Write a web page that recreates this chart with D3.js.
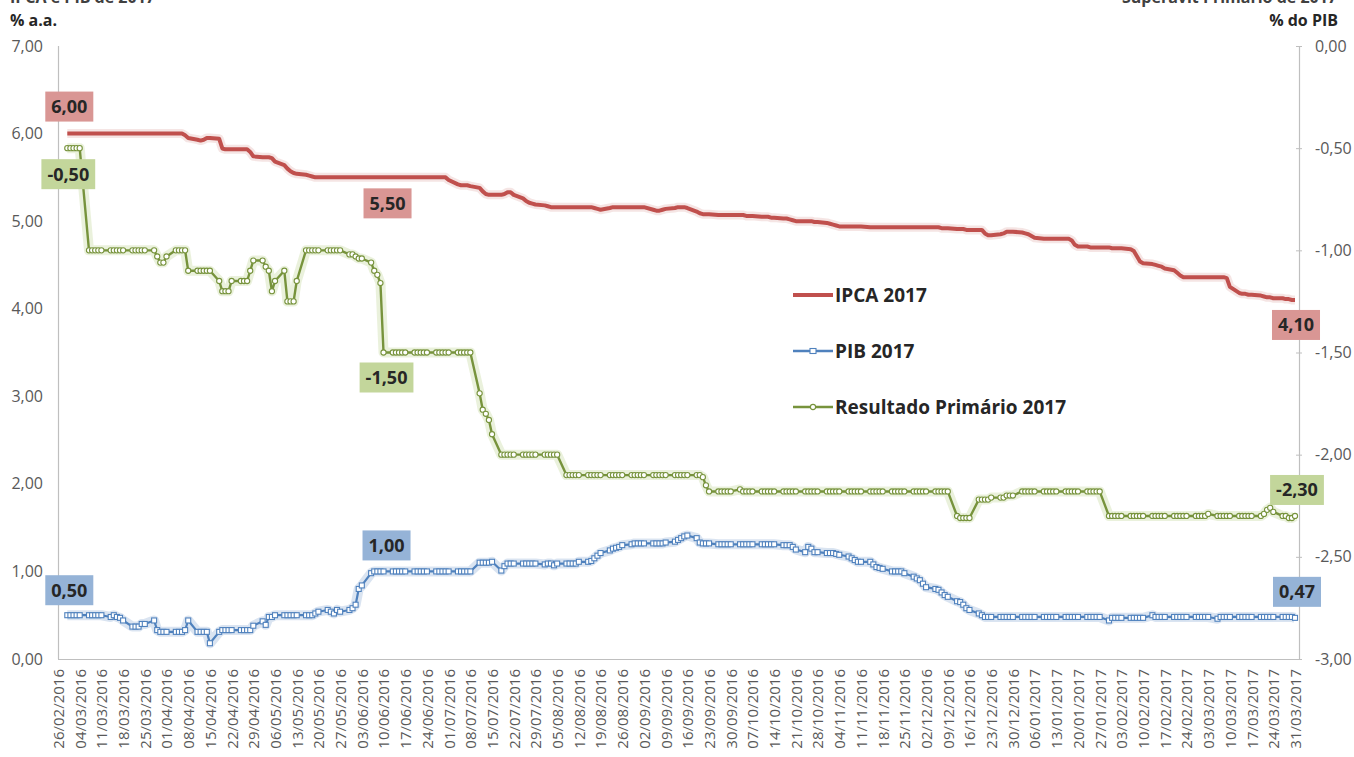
<!DOCTYPE html>
<html><head><meta charset="utf-8">
<script src="https://cdn.jsdelivr.net/npm/d3@7"></script>
<style>
html,body{margin:0;padding:0;background:#fff;}
svg{display:block;}
</style></head><body>
<svg id="chart" width="1354" height="757"></svg>
<script>
// ---------- categories ----------
const axisStart = "2016-02-26";
const firstDay = "2016-02-29";
const lastDay = "2017-03-31";
const tickLabels = ["26/02/2016","04/03/2016","11/03/2016","18/03/2016","25/03/2016","01/04/2016","08/04/2016","15/04/2016","22/04/2016","29/04/2016",
"06/05/2016","13/05/2016","20/05/2016","27/05/2016","03/06/2016","10/06/2016","17/06/2016","24/06/2016","01/07/2016","08/07/2016",
"15/07/2016","22/07/2016","29/07/2016","05/08/2016","12/08/2016","19/08/2016","26/08/2016","02/09/2016","09/09/2016","16/09/2016",
"23/09/2016","30/09/2016","07/10/2016","14/10/2016","21/10/2016","28/10/2016","04/11/2016","11/11/2016","18/11/2016","25/11/2016",
"02/12/2016","09/12/2016","16/12/2016","23/12/2016","30/12/2016","06/01/2017","13/01/2017","20/01/2017","27/01/2017","03/02/2017",
"10/02/2017","17/02/2017","24/02/2017","03/03/2017","10/03/2017","17/03/2017","24/03/2017","31/03/2017"];
const leftTicks = [0,1,2,3,4,5,6,7];
const rightTicks = [0,-0.5,-1,-1.5,-2,-2.5,-3];
const seriesNames = ["IPCA 2017","PIB 2017","Resultado Primário 2017"];

// ---------- series values (one row per week, Mon..Fri) ----------
const ipca = [
6.00,6.00,6.00,6.00,6.00, 6.00,6.00,6.00,6.00,6.00, 6.00,6.00,6.00,6.00,6.00, 6.00,6.00,6.00,6.00,6.00,
6.00,6.00,6.00,6.00,6.00, 6.00,6.00,6.00,5.98,5.95, 5.93,5.92,5.93,5.95,5.95, 5.94,5.83,5.82,5.82,5.82,
5.82,5.82,5.82,5.79,5.74, 5.73,5.73,5.73,5.72,5.68, 5.64,5.60,5.57,5.55,5.54, 5.53,5.52,5.51,5.50,5.50,
5.50,5.50,5.50,5.50,5.50, 5.50,5.50,5.50,5.50,5.50, 5.50,5.50,5.50,5.50,5.50, 5.50,5.50,5.50,5.50,5.50,
5.50,5.50,5.50,5.50,5.50, 5.50,5.50,5.50,5.50,5.47, 5.42,5.41,5.41,5.41,5.40, 5.38,5.34,5.31,5.30,5.30,
5.30,5.31,5.33,5.33,5.30, 5.26,5.23,5.21,5.20,5.19, 5.18,5.17,5.16,5.16,5.16, 5.16,5.16,5.16,5.16,5.16,
5.16,5.16,5.15,5.14,5.13, 5.15,5.16,5.16,5.16,5.16, 5.16,5.16,5.16,5.16,5.16, 5.13,5.12,5.12,5.13,5.14,
5.15,5.16,5.16,5.16,5.15, 5.11,5.09,5.08,5.08,5.08, 5.07,5.07,5.07,5.07,5.07, 5.07,5.07,5.06,5.06,5.06,
5.05,5.05,5.05,5.04,5.04, 5.03,5.03,5.02,5.01,5.00, 5.00,5.00,5.00,4.99,4.99, 4.98,4.97,4.96,4.95,4.94,
4.94,4.94,4.94,4.94,4.94, 4.93,4.93,4.93,4.93,4.93, 4.93,4.93,4.93,4.93,4.93, 4.93,4.93,4.93,4.93,4.93,
4.93,4.93,4.92,4.92,4.92, 4.91,4.91,4.91,4.90,4.90, 4.90,4.90,4.86,4.84,4.84, 4.85,4.86,4.88,4.88,4.88,
4.87,4.86,4.85,4.83,4.81, 4.80,4.80,4.80,4.80,4.80, 4.80,4.80,4.78,4.73,4.71, 4.71,4.70,4.70,4.70,4.70,
4.70,4.69,4.69,4.69,4.69, 4.68,4.66,4.60,4.54,4.52, 4.51,4.50,4.49,4.48,4.46, 4.44,4.41,4.38,4.36,4.36,
4.36,4.36,4.36,4.36,4.36, 4.36,4.36,4.36,4.35,4.25, 4.18,4.17,4.17,4.16,4.16, 4.15,4.14,4.13,4.13,4.12,
4.12,4.11,4.11,4.10,4.10];

const pib = [
0.50,0.50,0.50,0.50,0.50, 0.50,0.50,0.50,0.50,0.50, 0.48,0.50,0.48,0.47,0.44, 0.37,0.37,0.37,0.40,0.40,
0.44,0.33,0.31,0.31,0.31, 0.31,0.31,0.31,0.33,0.44, 0.31,0.31,0.31,0.31,0.18, 0.31,0.33,0.33,0.33,0.33,
0.33,0.33,0.33,0.33,0.38, 0.43,0.39,0.48,0.48,0.50, 0.50,0.50,0.50,0.50,0.50, 0.50,0.50,0.50,0.52,0.54,
0.56,0.54,0.52,0.56,0.54, 0.56,0.58,0.62,0.80,0.84, 0.98,1.00,1.00,1.00,1.00, 1.00,1.00,1.00,1.00,1.00,
1.00,1.00,1.00,1.00,1.00, 1.00,1.00,1.00,1.00,1.00, 1.00,1.00,1.00,1.00,1.00, 1.10,1.10,1.10,1.10,1.11,
1.01,1.06,1.09,1.09,1.09, 1.09,1.09,1.09,1.09,1.09, 1.08,1.09,1.09,1.07,1.09, 1.09,1.09,1.09,1.09,1.11,
1.11,1.12,1.15,1.18,1.21, 1.24,1.26,1.27,1.28,1.30, 1.31,1.32,1.32,1.32,1.32, 1.32,1.32,1.32,1.32,1.33,
1.34,1.36,1.38,1.40,1.41, 1.38,1.33,1.32,1.32,1.32, 1.31,1.31,1.31,1.31,1.31, 1.31,1.31,1.31,1.31,1.31,
1.31,1.31,1.31,1.31,1.31, 1.30,1.30,1.30,1.28,1.25, 1.22,1.28,1.26,1.22,1.22, 1.21,1.21,1.21,1.20,1.19,
1.17,1.15,1.13,1.11,1.11, 1.11,1.08,1.05,1.04,1.03, 1.00,1.00,1.00,1.00,0.98, 0.94,0.92,0.90,0.86,0.82,
0.80,0.79,0.76,0.73,0.71, 0.66,0.65,0.62,0.58,0.56, 0.52,0.50,0.48,0.48,0.48, 0.48,0.48,0.48,0.48,0.48,
0.48,0.48,0.48,0.48,0.48, 0.48,0.48,0.48,0.48,0.48, 0.48,0.48,0.48,0.48,0.48, 0.48,0.48,0.48,0.48,0.48,
0.44,0.47,0.47,0.47,0.47, 0.47,0.47,0.47,0.47,0.47, 0.50,0.48,0.48,0.48,0.48, 0.48,0.48,0.48,0.48,0.48,
0.48,0.48,0.48,0.48,0.48, 0.46,0.48,0.48,0.48,0.48, 0.48,0.48,0.48,0.48,0.48, 0.48,0.48,0.48,0.48,0.48,
0.48,0.48,0.48,0.48,0.47];

const primario = [
-0.50,-0.50,-0.50,-0.50,-0.50, -1.00,-1.00,-1.00,-1.00,-1.00, -1.00,-1.00,-1.00,-1.00,-1.00, -1.00,-1.00,-1.00,-1.00,-1.00,
-1.00,-1.03,-1.06,-1.06,-1.03, -1.00,-1.00,-1.00,-1.00,-1.10, -1.10,-1.10,-1.10,-1.10,-1.10, -1.15,-1.20,-1.20,-1.20,-1.15,
-1.15,-1.15,-1.15,-1.10,-1.05, -1.05,-1.08,-1.10,-1.20,-1.15, -1.10,-1.25,-1.25,-1.25,-1.15, -1.00,-1.00,-1.00,-1.00,-1.00,
-1.00,-1.00,-1.00,-1.00,-1.00, -1.02,-1.02,-1.03,-1.04,-1.04, -1.06,-1.10,-1.12,-1.16,-1.50, -1.50,-1.50,-1.50,-1.50,-1.50,
-1.50,-1.50,-1.50,-1.50,-1.50, -1.50,-1.50,-1.50,-1.50,-1.50, -1.50,-1.50,-1.50,-1.50,-1.50, -1.70,-1.78,-1.80,-1.83,-1.90,
-2.00,-2.00,-2.00,-2.00,-2.00, -2.00,-2.00,-2.00,-2.00,-2.00, -2.00,-2.00,-2.00,-2.00,-2.00, -2.10,-2.10,-2.10,-2.10,-2.10,
-2.10,-2.10,-2.10,-2.10,-2.10, -2.10,-2.10,-2.10,-2.10,-2.10, -2.10,-2.10,-2.10,-2.10,-2.10, -2.10,-2.10,-2.10,-2.10,-2.10,
-2.10,-2.10,-2.10,-2.10,-2.10, -2.10,-2.10,-2.11,-2.15,-2.18, -2.18,-2.18,-2.18,-2.18,-2.18, -2.17,-2.18,-2.18,-2.18,-2.18,
-2.18,-2.18,-2.18,-2.18,-2.18, -2.18,-2.18,-2.18,-2.18,-2.18, -2.18,-2.18,-2.18,-2.18,-2.18, -2.18,-2.18,-2.18,-2.18,-2.18,
-2.18,-2.18,-2.18,-2.18,-2.18, -2.18,-2.18,-2.18,-2.18,-2.18, -2.18,-2.18,-2.18,-2.18,-2.18, -2.18,-2.18,-2.18,-2.18,-2.18,
-2.18,-2.18,-2.18,-2.18,-2.18, -2.30,-2.31,-2.31,-2.31,-2.31, -2.22,-2.22,-2.22,-2.22,-2.21, -2.21,-2.21,-2.20,-2.20,-2.20,
-2.18,-2.18,-2.18,-2.18,-2.18, -2.18,-2.18,-2.18,-2.18,-2.18, -2.18,-2.18,-2.18,-2.18,-2.18, -2.18,-2.18,-2.18,-2.18,-2.18,
-2.30,-2.30,-2.30,-2.30,-2.30, -2.30,-2.30,-2.30,-2.30,-2.30, -2.30,-2.30,-2.30,-2.30,-2.30, -2.30,-2.30,-2.30,-2.30,-2.30,
-2.30,-2.30,-2.30,-2.30,-2.29, -2.30,-2.30,-2.30,-2.30,-2.30, -2.30,-2.30,-2.30,-2.30,-2.30, -2.30,-2.29,-2.27,-2.26,-2.28,
-2.30,-2.30,-2.31,-2.31,-2.30];

// ---------- layout / style ----------
const plot = {left: 58, right: 1299, top: 46, bottom: 659, xEnd: 1295};
const C = {
  red: "#c0504d", blue: "#4f81bd", green: "#77933c",
  redBox: "#d99694", blueBox: "#95b3d7", greenBox: "#c3d69b",
  axis: "#bfbfbf", tick: "#595959", text: "#262626"
};
const FONT = "'Open Sans', 'Noto Sans', sans-serif";

const svg = d3.select("#chart");
const parseISO = d3.timeParse("%Y-%m-%d");
const parseBR = d3.timeParse("%d/%m/%Y");
const loc = d3.formatLocale({decimal: ",", thousands: ".", grouping: [3], currency: ["R$ ", ""], minus: "-"});
const fmt = loc.format(".2f");

// business days
const days = d3.timeDay.range(parseISO(firstDay), d3.timeDay.offset(parseISO(lastDay), 1))
  .filter(d => d.getDay() !== 0 && d.getDay() !== 6);
const n = Math.min(days.length, ipca.length, pib.length, primario.length);
const rows = d3.range(n).map(i => ({date: days[i], ipca: ipca[i], pib: pib[i], prim: primario[i]}));

const x = d3.scaleTime().domain([parseISO(axisStart), parseISO(lastDay)]).range([plot.left, plot.xEnd]);
const yL = d3.scaleLinear().domain([0, 7]).range([plot.bottom, plot.top]);
const yR = d3.scaleLinear().domain([-3, 0]).range([plot.bottom, plot.top]);

// ---------- top titles (cropped in the original) ----------
svg.append("text").attr("x", 10).attr("y", 3).attr("font-family", FONT).attr("font-weight", 700)
  .attr("font-size", 16).attr("fill", "#404040").text("IPCA e PIB de 2017");
svg.append("text").attr("x", 1337).attr("y", 3).attr("text-anchor", "end").attr("font-family", FONT)
  .attr("font-weight", 700).attr("font-size", 16).attr("fill", "#404040").text("Superávit Primário de 2017");
svg.append("text").attr("x", 10).attr("y", 26).attr("font-family", FONT).attr("font-weight", 700)
  .attr("font-size", 16).attr("fill", C.text).text("% a.a.");
svg.append("text").attr("x", 1338).attr("y", 26).attr("text-anchor", "end").attr("font-family", FONT)
  .attr("font-weight", 700).attr("font-size", 16).attr("fill", C.text).text("% do PIB");

// ---------- axes ----------
const gL = svg.append("g").attr("transform", `translate(${plot.left},0)`)
  .call(d3.axisLeft(yL).tickValues(leftTicks).tickFormat(fmt).tickSize(0).tickPadding(15));
const gR = svg.append("g").attr("transform", `translate(${plot.right},0)`)
  .call(d3.axisRight(yR).tickValues(rightTicks).tickFormat(fmt).tickSizeInner(3).tickSizeOuter(0).tickPadding(13));
gR.selectAll(".tick line").attr("x1", -3).attr("x2", 3);
const tickDates = tickLabels.map(parseBR);
const gB = svg.append("g").attr("transform", `translate(0,${plot.bottom})`)
  .call(d3.axisBottom(x).tickValues(tickDates).tickFormat(d3.timeFormat("%d/%m/%Y")).tickSize(0).tickSizeOuter(0));
gB.select(".domain").attr("d", `M${plot.left},0.5H${plot.right}`);
gB.selectAll(".tick text").attr("transform", "rotate(-90)").attr("text-anchor", "end")
  .attr("x", -10).attr("y", 0).attr("dy", "0.36em");
[gL, gR, gB].forEach(g => {
  g.attr("font-family", FONT).attr("font-size", 15);
  g.select(".domain").attr("stroke", C.axis).attr("stroke-width", 1.2);
  g.selectAll(".tick line").attr("stroke", C.axis);
  g.selectAll(".tick text").attr("fill", C.tick);
});
gL.select(".domain").attr("d", `M0.5,${plot.top}V${plot.bottom}`);
gR.select(".domain").attr("d", `M0.5,${plot.top}V${plot.bottom}`);
gL.attr("font-size", 16); gR.attr("font-size", 16);

// ---------- series ----------
const lineIpca = d3.line().x(d => x(d.date)).y(d => yL(d.ipca));
const linePib = d3.line().x(d => x(d.date)).y(d => yL(d.pib));
const linePrim = d3.line().x(d => x(d.date)).y(d => yR(d.prim));

// soft glow underlays
svg.append("path").datum(rows).attr("d", lineIpca).attr("fill", "none").attr("stroke", C.redBox)
  .attr("stroke-opacity", 0.25).attr("stroke-width", 9).attr("stroke-linejoin", "round");
svg.append("path").datum(rows).attr("d", linePib).attr("fill", "none").attr("stroke", C.blueBox)
  .attr("stroke-opacity", 0.35).attr("stroke-width", 10).attr("stroke-linejoin", "round");
svg.append("path").datum(rows).attr("d", linePrim).attr("fill", "none").attr("stroke", C.greenBox)
  .attr("stroke-opacity", 0.35).attr("stroke-width", 10).attr("stroke-linejoin", "round");

svg.append("path").datum(rows).attr("d", lineIpca).attr("fill", "none").attr("stroke", C.red)
  .attr("stroke-width", 4).attr("stroke-linejoin", "round");

svg.append("path").datum(rows).attr("d", linePib).attr("fill", "none").attr("stroke", C.blue)
  .attr("stroke-width", 2.2).attr("stroke-linejoin", "round");
svg.append("g").selectAll("rect").data(rows).join("rect")
  .attr("x", d => x(d.date) - 2.5).attr("y", d => yL(d.pib) - 2.5).attr("width", 5).attr("height", 5)
  .attr("fill", "#fff").attr("stroke", C.blue).attr("stroke-width", 1.1);

svg.append("path").datum(rows).attr("d", linePrim).attr("fill", "none").attr("stroke", C.green)
  .attr("stroke-width", 2.4).attr("stroke-linejoin", "round");
svg.append("g").selectAll("circle").data(rows).join("circle")
  .attr("cx", d => x(d.date)).attr("cy", d => yR(d.prim)).attr("r", 2.6)
  .attr("fill", "#fff").attr("stroke", C.green).attr("stroke-width", 1.1);

// ---------- data labels ----------
const labelSpecs = [
  {key: "ipca", scale: yL, idx: 0, dx: 2, dy: -27, box: C.redBox},
  {key: "ipca", scale: yL, idx: 74, dx: 4, dy: 26, box: C.redBox},
  {key: "ipca", scale: yL, idx: n - 1, dx: 1, dy: 25, box: C.redBox},
  {key: "prim", scale: yR, idx: 0, dx: 1, dy: 26, box: C.greenBox},
  {key: "prim", scale: yR, idx: 74, dx: 3, dy: 25, box: C.greenBox},
  {key: "prim", scale: yR, idx: n - 1, dx: 2, dy: -26, box: C.greenBox},
  {key: "pib", scale: yL, idx: 0, dx: 2, dy: -25, box: C.blueBox},
  {key: "pib", scale: yL, idx: 74, dx: 3, dy: -26, box: C.blueBox},
  {key: "pib", scale: yL, idx: n - 1, dx: 2, dy: -26, box: C.blueBox}
];
const gLab = svg.append("g");
labelSpecs.forEach(s => {
  const r = rows[s.idx];
  const cx = x(r.date) + s.dx, cy = s.scale(r[s.key]) + s.dy;
  const g = gLab.append("g").attr("transform", `translate(${cx},${cy})`);
  const rect = g.append("rect").attr("fill", s.box);
  const t = g.append("text").attr("text-anchor", "middle").attr("dy", "0.36em")
    .attr("font-family", FONT).attr("font-weight", 700).attr("font-size", 18).attr("fill", C.text)
    .text(fmt(r[s.key]));
  const bb = t.node().getBBox();
  const w = bb.width + 12, h = 30;
  rect.attr("x", -w / 2).attr("y", -h / 2).attr("width", w).attr("height", h);
});

// ---------- legend ----------
const legend = svg.append("g").attr("transform", "translate(793,295)");
const items = [
  {name: seriesNames[0], color: C.red, w: 4, marker: null},
  {name: seriesNames[1], color: C.blue, w: 2.4, marker: "square"},
  {name: seriesNames[2], color: C.green, w: 2.4, marker: "circle"}
];
items.forEach((it, i) => {
  const g = legend.append("g").attr("transform", `translate(0,${i * 56})`);
  g.append("line").attr("x1", 0).attr("x2", 40).attr("y1", 0).attr("y2", 0)
    .attr("stroke", it.color).attr("stroke-width", it.w);
  if (it.marker === "square") g.append("rect").attr("x", 17).attr("y", -2.5).attr("width", 6).attr("height", 5)
    .attr("fill", "#fff").attr("stroke", it.color).attr("stroke-width", 1.1);
  if (it.marker === "circle") g.append("circle").attr("cx", 20).attr("cy", 0).attr("r", 2.6)
    .attr("fill", "#fff").attr("stroke", it.color).attr("stroke-width", 1.1);
  g.append("text").attr("x", 42).attr("y", 0).attr("dy", "0.36em").attr("font-family", FONT)
    .attr("font-weight", 700).attr("font-size", 19).attr("fill", C.text).text(it.name);
});
</script>
</body></html>
